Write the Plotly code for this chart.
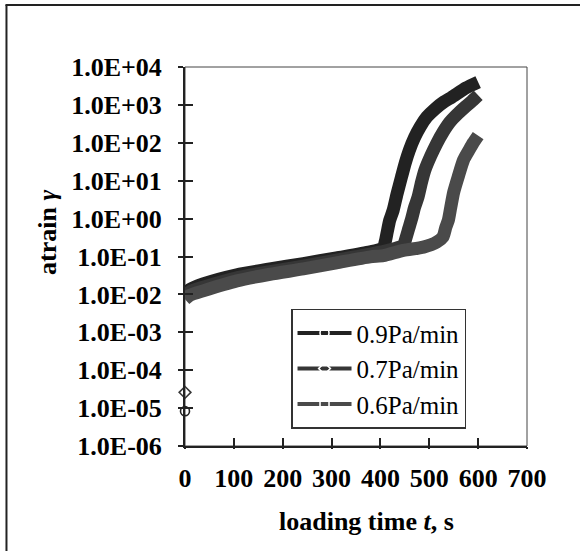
import plotly.graph_objects as go

# ---- data ----
t_09 = [0, 1, 10, 37, 106, 174, 242, 310, 379, 406, 410, 414, 419, 426, 434, 443, 451, 459, 470,
        481, 495, 512, 530, 546, 575, 600]
g_09 = [8.3e-6, 0.0105, 0.0135, 0.0189, 0.033, 0.047, 0.065, 0.092, 0.132, 0.17, 0.25, 0.45, 0.9,
        1.65, 4.5, 12.4, 30, 63, 140, 260, 480, 790, 1200, 1600, 2800, 4000]

t_07 = [0, 1, 10, 37, 106, 174, 242, 310, 379, 420, 447, 452, 458, 464, 470, 477, 484, 491, 503,
        515, 528, 542, 557, 573, 587, 600]
g_07 = [2.6e-5, 0.009, 0.0118, 0.0155, 0.0275, 0.04, 0.056, 0.08, 0.115, 0.15, 0.2, 0.3, 0.55,
        1.0, 2.0, 3.7, 9, 19, 45, 95, 190, 350, 560, 870, 1250, 1800]

t_06 = [0, 10, 37, 106, 174, 242, 310, 379, 406, 447, 488, 515, 528, 534, 539, 544, 550, 559, 570,
        581, 590, 600]
g_06 = [0.0075, 0.0095, 0.0124, 0.0227, 0.034, 0.047, 0.068, 0.098, 0.105, 0.145, 0.177, 0.24,
        0.33, 0.6, 0.9, 2.0, 5, 12.5, 35, 63, 100, 155]

series_names = ["0.9Pa/min", "0.7Pa/min", "0.6Pa/min"]
series_colors = ["#222222", "#363636", "#4a4a4a"]
series_symbols = ["circle-open", "diamond-open", "square-open"]

x_ticks = [0, 100, 200, 300, 400, 500, 600, 700]
y_tickvals = [1e-6, 1e-5, 1e-4, 1e-3, 1e-2, 1e-1, 1e0, 1e1, 1e2, 1e3, 1e4]
y_ticktext = ["1.0E-06", "1.0E-05", "1.0E-04", "1.0E-03", "1.0E-02", "1.0E-01",
              "1.0E+00", "1.0E+01", "1.0E+02", "1.0E+03", "1.0E+04"]

FONT = "Liberation Serif"

fig = go.Figure()

data = [(t_09, g_09), (t_07, g_07), (t_06, g_06)]
for (tt, gg), name, col, sym in zip(data, series_names, series_colors, series_symbols):
    # first points at t = 0 that lie far below the curve are isolated markers
    if gg[0] < 1e-3:
        fig.add_trace(go.Scatter(x=tt[:1], y=gg[:1], mode="markers", showlegend=False,
                                 cliponaxis=False,
                                 marker=dict(symbol=sym, size=9, color=col,
                                             line=dict(width=1.6, color=col)),
                                 hoverinfo="skip"))
        tt, gg = tt[1:], gg[1:]
    fig.add_trace(go.Scatter(x=tt, y=gg, mode="lines", showlegend=False,
                             line=dict(color=col, width=13, shape="spline", smoothing=0.6)))

# legend entries
for name, col, sym in zip(series_names, series_colors, series_symbols):
    fig.add_trace(go.Scatter(x=[None], y=[None], mode="lines+markers", name=name,
                             xaxis="x2", yaxis="y2",
                             line=dict(color=col, width=4),
                             marker=dict(symbol=sym, size=9, color="white",
                                         line=dict(width=1.6, color=col))))

tickfont = dict(family=FONT, size=26, color="black", weight="bold")
titlefont = dict(family=FONT, size=26, color="black")

fig.update_layout(
    width=580, height=551,
    margin=dict(l=185, r=53, t=67, b=105),
    paper_bgcolor="white", plot_bgcolor="white",
    font=dict(family=FONT, color="black"),
    xaxis=dict(range=[0, 700], tickvals=x_ticks, ticks="inside", ticklen=8, tickwidth=1.5,
               tickcolor="#222", showline=True, linewidth=2, linecolor="#222",
               showgrid=False, zeroline=False, tickfont=tickfont, ticklabelstandoff=8),
    yaxis=dict(type="log", range=[-6, 4], tickvals=y_tickvals, ticktext=y_ticktext,
               ticks="outside", ticklen=5, tickwidth=1.5, tickcolor="#222",
               showline=True, linewidth=2, linecolor="#222", showgrid=False, zeroline=False,
               tickfont=tickfont, ticklabelstandoff=11),
    xaxis2=dict(overlaying="x", anchor="y2", range=[0, 700], tickvals=x_ticks,
                ticks="outside", ticklen=2, tickwidth=1.5, tickcolor="#222",
                showticklabels=False, showgrid=False, zeroline=False, showline=False),
    yaxis2=dict(overlaying="y", anchor="x2", type="log", range=[-6, 4], tickvals=y_tickvals,
                ticks="inside", ticklen=8, tickwidth=1.5, tickcolor="#222",
                showticklabels=False, showgrid=False, zeroline=False, showline=False),
    legend=dict(x=0.31, y=0.362, xanchor="left", yanchor="top",
                bgcolor="white", bordercolor="#333", borderwidth=1.5,
                font=dict(family=FONT, size=25, color="black"),
                itemwidth=54, tracegroupgap=0),
    annotations=[
        dict(text="<b>loading time <i>t</i>, s</b>", xref="paper", yref="paper",
             x=0.531, y=-0.2005, xanchor="center", yanchor="middle", showarrow=False,
             font=titlefont),
        dict(text="<b>atrain <i>γ</i></b>", xref="paper", yref="paper",
             x=-0.4035, y=0.562, xanchor="center", yanchor="middle", showarrow=False,
             textangle=-90, font=titlefont),
    ],
    shapes=[
        dict(type="rect", xref="paper", yref="paper", x0=0, x1=1, y0=0, y1=1,
             line=dict(color="#444", width=1), layer="below"),
        dict(type="line", xref="paper", yref="paper", x0=-0.522, x1=-0.522, y0=-0.32, y1=1.1636,
             line=dict(color="#222", width=2)),
        dict(type="line", xref="paper", yref="paper", x0=-0.525, x1=1.2, y0=1.1636, y1=1.1636,
             line=dict(color="#222", width=2)),
    ],
)

fig.write_html("out.html")
